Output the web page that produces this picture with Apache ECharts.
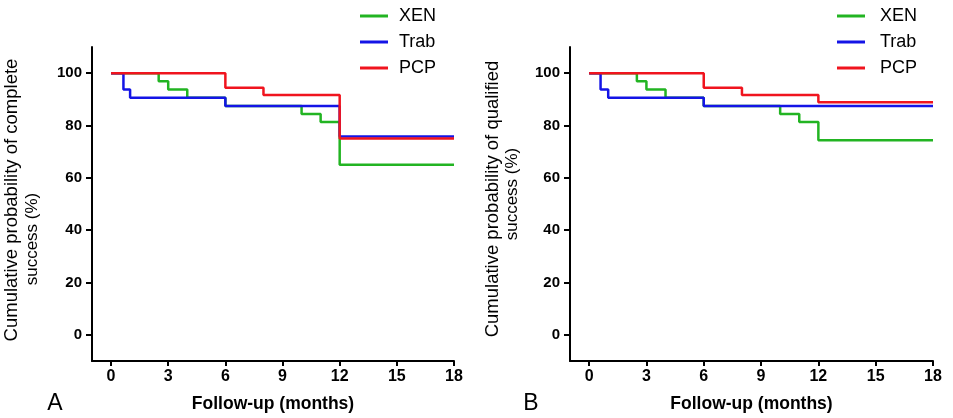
<!DOCTYPE html>
<html>
<head>
<meta charset="utf-8">
<script src="https://cdn.jsdelivr.net/npm/echarts@6/dist/echarts.min.js"></script>
<style>
html,body{margin:0;padding:0;background:#fff;}
#chart{width:953px;height:418px;}
</style>
</head>
<body>
<div id="chart"></div>
<script>
// Tick labels
const monthTicks = [0, 3, 6, 9, 12, 15, 18];
const pctTicks = [0, 20, 40, 60, 80, 100];
const seriesNames = ['XEN', 'Trab', 'PCP'];

// Panel A: complete success (step times in months, survival %)
const xenA_t = [0, 2.5, 3, 4, 6, 10, 11, 12, 18];
const xenA_v = [100, 96.9, 93.8, 90.6, 87.5, 84.4, 81.3, 65, 65];
const trabA_t = [0, 0.65, 1, 6, 12, 18];
const trabA_v = [100, 93.8, 90.6, 87.5, 75.8, 75.8];
const pcpA_t = [0, 6, 8, 12, 18];
const pcpA_v = [100, 94.4, 91.7, 75, 75];

// Panel B: qualified success
const xenB_t = [0, 2.5, 3, 4, 6, 10, 11, 12, 18];
const xenB_v = [100, 96.9, 93.8, 90.6, 87.5, 84.4, 81.3, 74.4, 74.4];
const trabB_t = [0, 0.6, 1, 6, 18];
const trabB_v = [100, 93.8, 90.6, 87.5, 87.5];
const pcpB_t = [0, 6, 8, 12, 18];
const pcpB_v = [100, 94.4, 91.7, 88.9, 88.9];

const colors = {XEN: '#22b422', Trab: '#1414e6', PCP: '#f0141e'};
const FONT = '"Liberation Sans", Arial, sans-serif';

function pairs(t, v) { return t.map((x, i) => [x, v[i]]); }

function mkSeries(name, t, v, idx) {
  return {
    name: name, type: 'line', step: 'end',
    xAxisIndex: idx, yAxisIndex: idx,
    data: pairs(t, v),
    symbol: 'none', showSymbol: false,
    lineStyle: {color: colors[name], width: 2.5},
    itemStyle: {color: colors[name]},
    animation: false
  };
}

function mkX(idx) {
  return {
    type: 'value', gridIndex: idx, min: -1, max: 18,
    axisLine: {show: true, onZero: false, lineStyle: {color: '#000', width: 2}},
    axisTick: {show: true, customValues: monthTicks, length: 5, lineStyle: {color: '#000', width: 2}},
    axisLabel: {customValues: monthTicks, color: '#000', fontWeight: 'bold', fontSize: 16, fontFamily: FONT, margin: 8},
    splitLine: {show: false},
    name: 'Follow-up (months)', nameLocation: 'middle', nameGap: 34,
    nameTextStyle: {color: '#000', fontWeight: 'bold', fontSize: 17.5, fontFamily: FONT}
  };
}
function mkY(idx) {
  return {
    type: 'value', gridIndex: idx, min: -10, max: 110,
    axisLine: {show: true, onZero: false, lineStyle: {color: '#000', width: 2}},
    axisTick: {show: true, customValues: pctTicks, length: 6, lineStyle: {color: '#000', width: 2}},
    axisLabel: {customValues: pctTicks, color: '#000', fontWeight: 'bold', fontSize: 15, fontFamily: FONT, margin: 10},
    splitLine: {show: false}
  };
}
function mkLegend(left, pad) {
  return {
    orient: 'vertical', left: left, top: 2,
    data: seriesNames,
    icon: 'rect',
    itemWidth: 28, itemHeight: 3, itemGap: 8,
    textStyle: {color: '#000', fontSize: 18, fontFamily: FONT, lineHeight: 18, padding: [0, 0, 0, pad]},
    selectedMode: false
  };
}
function vtext(x, y, s, size) {
  return {type: 'text', x: x, y: y, rotation: Math.PI / 2,
    style: {text: s, fill: '#000', fontSize: size, fontFamily: FONT, align: 'center', verticalAlign: 'middle'}};
}

const chart = echarts.init(document.getElementById('chart'), null, {renderer: 'canvas'});
chart.setOption({
  backgroundColor: '#fff',
  animation: false,
  grid: [
    {left: 92, top: 47, width: 362, height: 316},
    {left: 570, top: 47, width: 363, height: 316}
  ],
  xAxis: [mkX(0), mkX(1)],
  yAxis: [mkY(0), mkY(1)],
  legend: [mkLegend(355, 6), mkLegend(832, 10)],
  series: [
    mkSeries('XEN', xenA_t, xenA_v, 0),
    mkSeries('Trab', trabA_t, trabA_v, 0),
    mkSeries('PCP', pcpA_t, pcpA_v, 0),
    mkSeries('XEN', xenB_t, xenB_v, 1),
    mkSeries('Trab', trabB_t, trabB_v, 1),
    mkSeries('PCP', pcpB_t, pcpB_v, 1)
  ],
  graphic: [
    vtext(12, 200, 'Cumulative probability of complete', 18.5),
    vtext(32, 239, 'success (%)', 17),
    vtext(493, 199, 'Cumulative probability of qualified', 18.5),
    vtext(512, 194, 'success (%)', 17),
    {type: 'text', x: 55, y: 404, style: {text: 'A', fill: '#000', fontSize: 23, fontFamily: FONT, align: 'center', verticalAlign: 'middle'}},
    {type: 'text', x: 531, y: 404, style: {text: 'B', fill: '#000', fontSize: 23, fontFamily: FONT, align: 'center', verticalAlign: 'middle'}}
  ]
});
</script>
</body>
</html>
